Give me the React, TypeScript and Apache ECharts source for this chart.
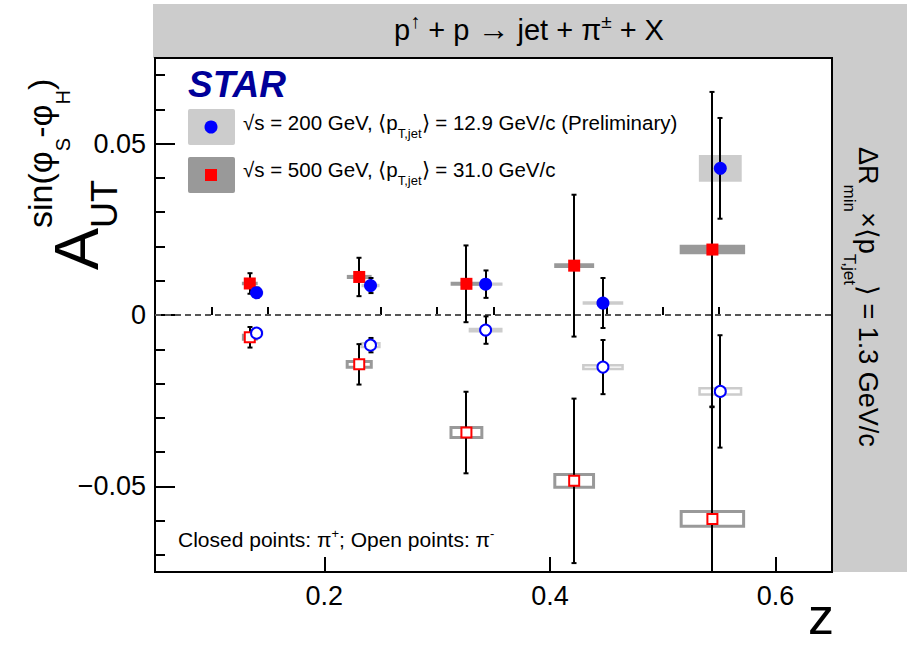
import React, { useEffect, useRef } from 'react';
import * as echarts from 'echarts';

const FONT = '"Liberation Sans", Arial, Helvetica, sans-serif';

// ---------------- data ----------------
const zBlue = [0.140, 0.241, 0.343, 0.447, 0.551];
const zRed = [0.134, 0.231, 0.326, 0.4215, 0.544];

// 200 GeV, pi+ (closed blue)
const blueClosedVal = [0.0065, 0.0086, 0.0090, 0.0035, 0.0428];
const blueClosedErr = [0.0015, 0.0022, 0.0040, 0.0073, 0.0147];
const blueClosedSysX = [0.006, 0.008, 0.015, 0.018, 0.019];
const blueClosedSysY = [0.0005, 0.0005, 0.0005, 0.0005, 0.0039];

// 200 GeV, pi- (open blue)
const blueOpenVal = [-0.0053, -0.0088, -0.0044, -0.0152, -0.0223];
const blueOpenErr = [0.0012, 0.0021, 0.0040, 0.0079, 0.0164];
const blueOpenSysX = [0.006, 0.009, 0.015, 0.0185, 0.0195];
const blueOpenSysY = [0.0007, 0.0009, 0.0007, 0.0009, 0.0013];

// 500 GeV, pi+ (closed red)
const redClosedVal = [0.0092, 0.0111, 0.0091, 0.0144, 0.0191];
const redClosedErr = [0.0030, 0.0056, 0.0112, 0.0207, 0.0460];
const redClosedSysX = [0.007, 0.011, 0.014, 0.0177, 0.029];
const redClosedSysY = [0.0005, 0.0006, 0.0006, 0.0007, 0.0014];

// 500 GeV, pi- (open red)
const redOpenVal = [-0.0065, -0.0144, -0.0343, -0.0484, -0.0595];
const redOpenErr = [0.0030, 0.0059, 0.0119, 0.0240, 0.0328];
const redOpenSysX = [0.007, 0.012, 0.015, 0.0185, 0.029];
const redOpenSysY = [0.0010, 0.0013, 0.0019, 0.0023, 0.0026];

const xMajorTicks = [0.2, 0.4, 0.6];
const xMinorTicks = [0.1, 0.15, 0.25, 0.3, 0.35, 0.45, 0.5, 0.55];
const yMajorTicks = [-0.05, 0, 0.05];
const yMinorTicks = [-0.07, -0.06, -0.04, -0.03, -0.02, -0.01, 0.01, 0.02, 0.03, 0.04, 0.06, 0.07];
const xLabels = ['0.2', '0.4', '0.6'];
const yLabels = ['\u22120.05', '0', '0.05'];

const X_MIN = 0.05, X_MAX = 0.65, Y_MIN = -0.075, Y_MAX = 0.075;

// kind: 0 blue closed, 1 blue open, 2 red closed, 3 red open
function rows(xs: number[], ys: number[], es: number[], sx: number[], sy: number[], kind: number) {
  return xs.map((x, i) => [x, ys[i], es[i], sx[i], sy[i], kind]);
}
const allRows = [
  ...rows(zBlue, blueClosedVal, blueClosedErr, blueClosedSysX, blueClosedSysY, 0),
  ...rows(zBlue, blueOpenVal, blueOpenErr, blueOpenSysX, blueOpenSysY, 1),
  ...rows(zRed, redClosedVal, redClosedErr, redClosedSysX, redClosedSysY, 2),
  ...rows(zRed, redOpenVal, redOpenErr, redOpenSysX, redOpenSysY, 3),
];

// ---------------- text helpers ----------------
let ctx: CanvasRenderingContext2D | null = null;
function measure(t: string, s: number, w = 'normal', st = 'normal') {
  if (!ctx) ctx = document.createElement('canvas').getContext('2d');
  ctx!.font = `${st} ${w} ${s}px ${FONT}`;
  return ctx!.measureText(t).width;
}
type Seg = { t: string; s: number; v?: number; at?: number; w?: string; i?: string; c?: string };
function seqWidth(segs: Seg[]) {
  let u = 0;
  for (const sg of segs) {
    if (sg.at !== undefined) u = sg.at;
    u += measure(sg.t, sg.s, sg.w, sg.i);
  }
  return u;
}
function seqText(segs: Seg[], ox: number, oy: number, theta: number) {
  const adv = [Math.cos(theta), -Math.sin(theta)];
  const down = [Math.sin(theta), Math.cos(theta)];
  let u = 0;
  const els: any[] = [];
  for (const sg of segs) {
    if (sg.at !== undefined) u = sg.at;
    const v = (sg.v || 0) - 0.3465 * sg.s;
    els.push({
      type: 'text',
      x: ox + u * adv[0] + v * down[0],
      y: oy + u * adv[1] + v * down[1],
      rotation: theta,
      z: 100,
      silent: true,
      style: {
        text: sg.t,
        fontSize: sg.s,
        fontFamily: FONT,
        fontWeight: sg.w || 'normal',
        fontStyle: sg.i || 'normal',
        fill: sg.c || '#000',
        align: 'left',
        verticalAlign: 'middle',
        textAlign: 'left',
        textVerticalAlign: 'middle',
      },
    });
    u += measure(sg.t, sg.s, sg.w, sg.i);
  }
  return els;
}

function buildGraphics() {
  const g: any[] = [];
  // gray bands
  g.push({ type: 'rect', shape: { x: 153, y: 4, width: 754, height: 54 }, style: { fill: '#cccccc' }, z: -1, silent: true });
  g.push({ type: 'rect', shape: { x: 833, y: 58, width: 74, height: 514 }, style: { fill: '#cccccc' }, z: -1, silent: true });

  // title
  const titleSegs: Seg[] = [
    { t: 'p', s: 29 },
    { t: '\u2191', s: 20, v: -12 },
    { t: ' + p ', s: 29 },
    { t: '\u2192', s: 32 },
    { t: ' jet + \u03c0', s: 29 },
    { t: '\u00b1', s: 19, v: -12 },
    { t: ' + X', s: 29 },
  ];
  const tw = seqWidth(titleSegs);
  g.push(...seqText(titleSegs, 529 - tw / 2, 40, 0));

  // STAR
  g.push(...seqText([{ t: 'STAR', s: 37, w: 'bold', i: 'italic', c: '#000099' }], 188, 97, 0));

  // legend
  g.push({ type: 'rect', shape: { x: 188, y: 109, width: 47, height: 36, r: 2 }, style: { fill: '#cccccc' }, z: 100, silent: true });
  g.push({ type: 'circle', shape: { cx: 211, cy: 127, r: 6.5 }, style: { fill: '#0000ff' }, z: 101, silent: true });
  g.push({ type: 'rect', shape: { x: 188, y: 157, width: 47, height: 36, r: 2 }, style: { fill: '#999999' }, z: 100, silent: true });
  g.push({ type: 'rect', shape: { x: 205, y: 169, width: 12, height: 12 }, style: { fill: '#ff0000' }, z: 101, silent: true });
  g.push(...seqText([
    { t: '\u221as = 200 GeV, \u27e8p', s: 20.5 },
    { t: 'T,jet', s: 13, v: 8 },
    { t: '\u27e9 = 12.9 GeV/c (Preliminary)', s: 20.5 },
  ], 243, 130, 0));
  g.push(...seqText([
    { t: '\u221as = 500 GeV, \u27e8p', s: 20.5 },
    { t: 'T,jet', s: 13, v: 8 },
    { t: '\u27e9 = 31.0 GeV/c', s: 20.5 },
  ], 243, 177, 0));

  // closed / open note
  g.push(...seqText([
    { t: 'Closed points: \u03c0', s: 21 },
    { t: '+', s: 13, v: -9 },
    { t: '; Open points: \u03c0', s: 21 },
    { t: '-', s: 13, v: -9 },
  ], 178, 547, 0));

  // y title (rotated, reading upward)
  const aW = measure('A', 63);
  g.push(...seqText([
    { t: 'A', s: 63 },
    { t: 'UT', s: 36, v: 19, at: aW },
    { t: 'sin(\u03c6', s: 34, v: -46, at: aW },
    { t: 'S', s: 20, v: -28 },
    { t: '-\u03c6', s: 34, v: -46 },
    { t: 'H', s: 20, v: -28 },
    { t: ')', s: 34, v: -46 },
  ], 98, 270, Math.PI / 2));

  // right label (rotated, reading downward)
  g.push(...seqText([
    { t: '\u0394R', s: 27 },
    { t: 'min', s: 17, v: 15 },
    { t: '\u00d7\u27e8p', s: 27 },
    { t: 'T,jet', s: 17, v: 15 },
    { t: '\u27e9 = 1.3 GeV/c', s: 27 },
  ], 859, 147, -Math.PI / 2));

  // x title
  const zw = measure('z', 52);
  g.push(...seqText([{ t: 'z', s: 52 }], 834 - zw, 634, 0));
  return g;
}

function boxItem(params: any, api: any) {
  const x = api.value(0), y = api.value(1), sx = api.value(3), sy = api.value(4), kind = api.value(5);
  const p1 = api.coord([x - sx, y + sy]);
  const p2 = api.coord([x + sx, y - sy]);
  const w = p2[0] - p1[0], h = p2[1] - p1[1];
  if (kind === 0 || kind === 2) {
    return { type: 'rect', shape: { x: p1[0], y: p1[1], width: w, height: Math.max(h, 3) }, style: { fill: kind === 0 ? '#cccccc' : '#999999' } };
  }
  const col = kind === 1 ? '#cccccc' : '#999999';
  const lw = kind === 1 ? 2.5 : 3;
  return { type: 'rect', shape: { x: p1[0] + lw / 2, y: p1[1] + lw / 2, width: w - lw, height: Math.max(h - lw, 2) }, style: { fill: 'none', stroke: col, lineWidth: lw } };
}

function errItem(params: any, api: any) {
  const x = api.value(0), y = api.value(1), e = api.value(2);
  const cs = params.coordSys;
  const pt = api.coord([x, y + e]);
  const pb = api.coord([x, y - e]);
  const cx = Math.round(pt[0]);
  const top = Math.max(pt[1], cs.y);
  const bot = Math.min(pb[1], cs.y + cs.height);
  const style = { stroke: '#000', lineWidth: 2 };
  const children: any[] = [{ type: 'line', shape: { x1: cx, y1: top, x2: cx, y2: bot }, style }];
  if (pt[1] >= cs.y) children.push({ type: 'line', shape: { x1: cx - 2.5, y1: top, x2: cx + 2.5, y2: top }, style });
  if (pb[1] <= cs.y + cs.height) children.push({ type: 'line', shape: { x1: cx - 2.5, y1: bot, x2: cx + 2.5, y2: bot }, style });
  return { type: 'group', children };
}

function pts(xs: number[], ys: number[]) {
  return xs.map((x, i) => [x, ys[i]]);
}

export default function App() {
  const ref = useRef<HTMLDivElement>(null);
  useEffect(() => {
    if (!ref.current) return;
    const chart = echarts.init(ref.current, null, { renderer: 'svg' });
    const tickStyle = { color: '#000', width: 2 };
    const option: any = {
      animation: false,
      backgroundColor: '#ffffff',
      grid: { left: 155, top: 58, right: 75, bottom: 74, show: true, borderColor: '#000', borderWidth: 2, backgroundColor: '#ffffff' },
      xAxis: [
        {
          type: 'value', min: X_MIN, max: X_MAX, position: 'bottom',
          axisLine: { show: true, onZero: false, lineStyle: tickStyle },
          axisTick: { show: true, inside: true, length: 15, customValues: xMajorTicks, lineStyle: tickStyle },
          axisLabel: {
            customValues: xMajorTicks, margin: 10, fontSize: 27, fontFamily: FONT, color: '#000',
            formatter: (v: number) => xLabels[xMajorTicks.findIndex((t) => Math.abs(t - v) < 1e-9)] ?? '',
          },
          splitLine: { show: false },
        },
        {
          type: 'value', min: X_MIN, max: X_MAX, position: 'bottom',
          axisLine: { show: false },
          axisTick: { show: true, inside: true, length: 8, customValues: xMinorTicks, lineStyle: tickStyle },
          axisLabel: { show: false },
          splitLine: { show: false },
        },
      ],
      yAxis: [
        {
          type: 'value', min: Y_MIN, max: Y_MAX, position: 'left',
          axisLine: { show: true, onZero: false, lineStyle: tickStyle },
          axisTick: { show: true, inside: true, length: 20, customValues: yMajorTicks, lineStyle: tickStyle },
          axisLabel: {
            customValues: yMajorTicks, margin: 9, fontSize: 27, fontFamily: FONT, color: '#000',
            formatter: (v: number) => yLabels[yMajorTicks.findIndex((t) => Math.abs(t - v) < 1e-9)] ?? '',
          },
          splitLine: { show: false },
        },
        {
          type: 'value', min: Y_MIN, max: Y_MAX, position: 'left',
          axisLine: { show: false },
          axisTick: { show: true, inside: true, length: 10, customValues: yMinorTicks, lineStyle: tickStyle },
          axisLabel: { show: false },
          splitLine: { show: false },
        },
      ],
      graphic: { elements: buildGraphics() },
      series: [
        {
          type: 'custom', name: 'sys', renderItem: boxItem, data: allRows, z: 1, silent: true,
          encode: { x: 0, y: 1 },
        },
        {
          type: 'line', name: 'zero', data: [[X_MIN, 0], [X_MAX, 0]], symbol: 'none', z: 2, silent: true,
          lineStyle: { color: '#555555', width: 2, type: [6, 4] },
        },
        {
          type: 'custom', name: 'err', renderItem: errItem, data: allRows, z: 3, silent: true,
          encode: { x: 0, y: 1 },
        },
        {
          type: 'scatter', name: '500 closed', data: pts(zRed, redClosedVal), symbol: 'rect', symbolSize: 12, z: 4, silent: true,
          itemStyle: { color: '#ff0000', opacity: 1 },
        },
        {
          type: 'scatter', name: '500 open', data: pts(zRed, redOpenVal), symbol: 'rect', symbolSize: 10, z: 4, silent: true,
          itemStyle: { color: '#ffffff', borderColor: '#ff0000', borderWidth: 2, opacity: 1 },
        },
        {
          type: 'scatter', name: '200 closed', data: pts(zBlue, blueClosedVal), symbol: 'circle', symbolSize: 13, z: 5, silent: true,
          itemStyle: { color: '#0000ff', opacity: 1 },
        },
        {
          type: 'scatter', name: '200 open', data: pts(zBlue, blueOpenVal), symbol: 'circle', symbolSize: 11, z: 5, silent: true,
          itemStyle: { color: '#ffffff', borderColor: '#0000ff', borderWidth: 2, opacity: 1 },
        },
      ],
    };
    chart.setOption(option);
    return () => chart.dispose();
  }, []);
  return <div ref={ref} style={{ position: 'fixed', left: 0, top: 0, width: 907, height: 646, background: '#fff' }} />;
}
